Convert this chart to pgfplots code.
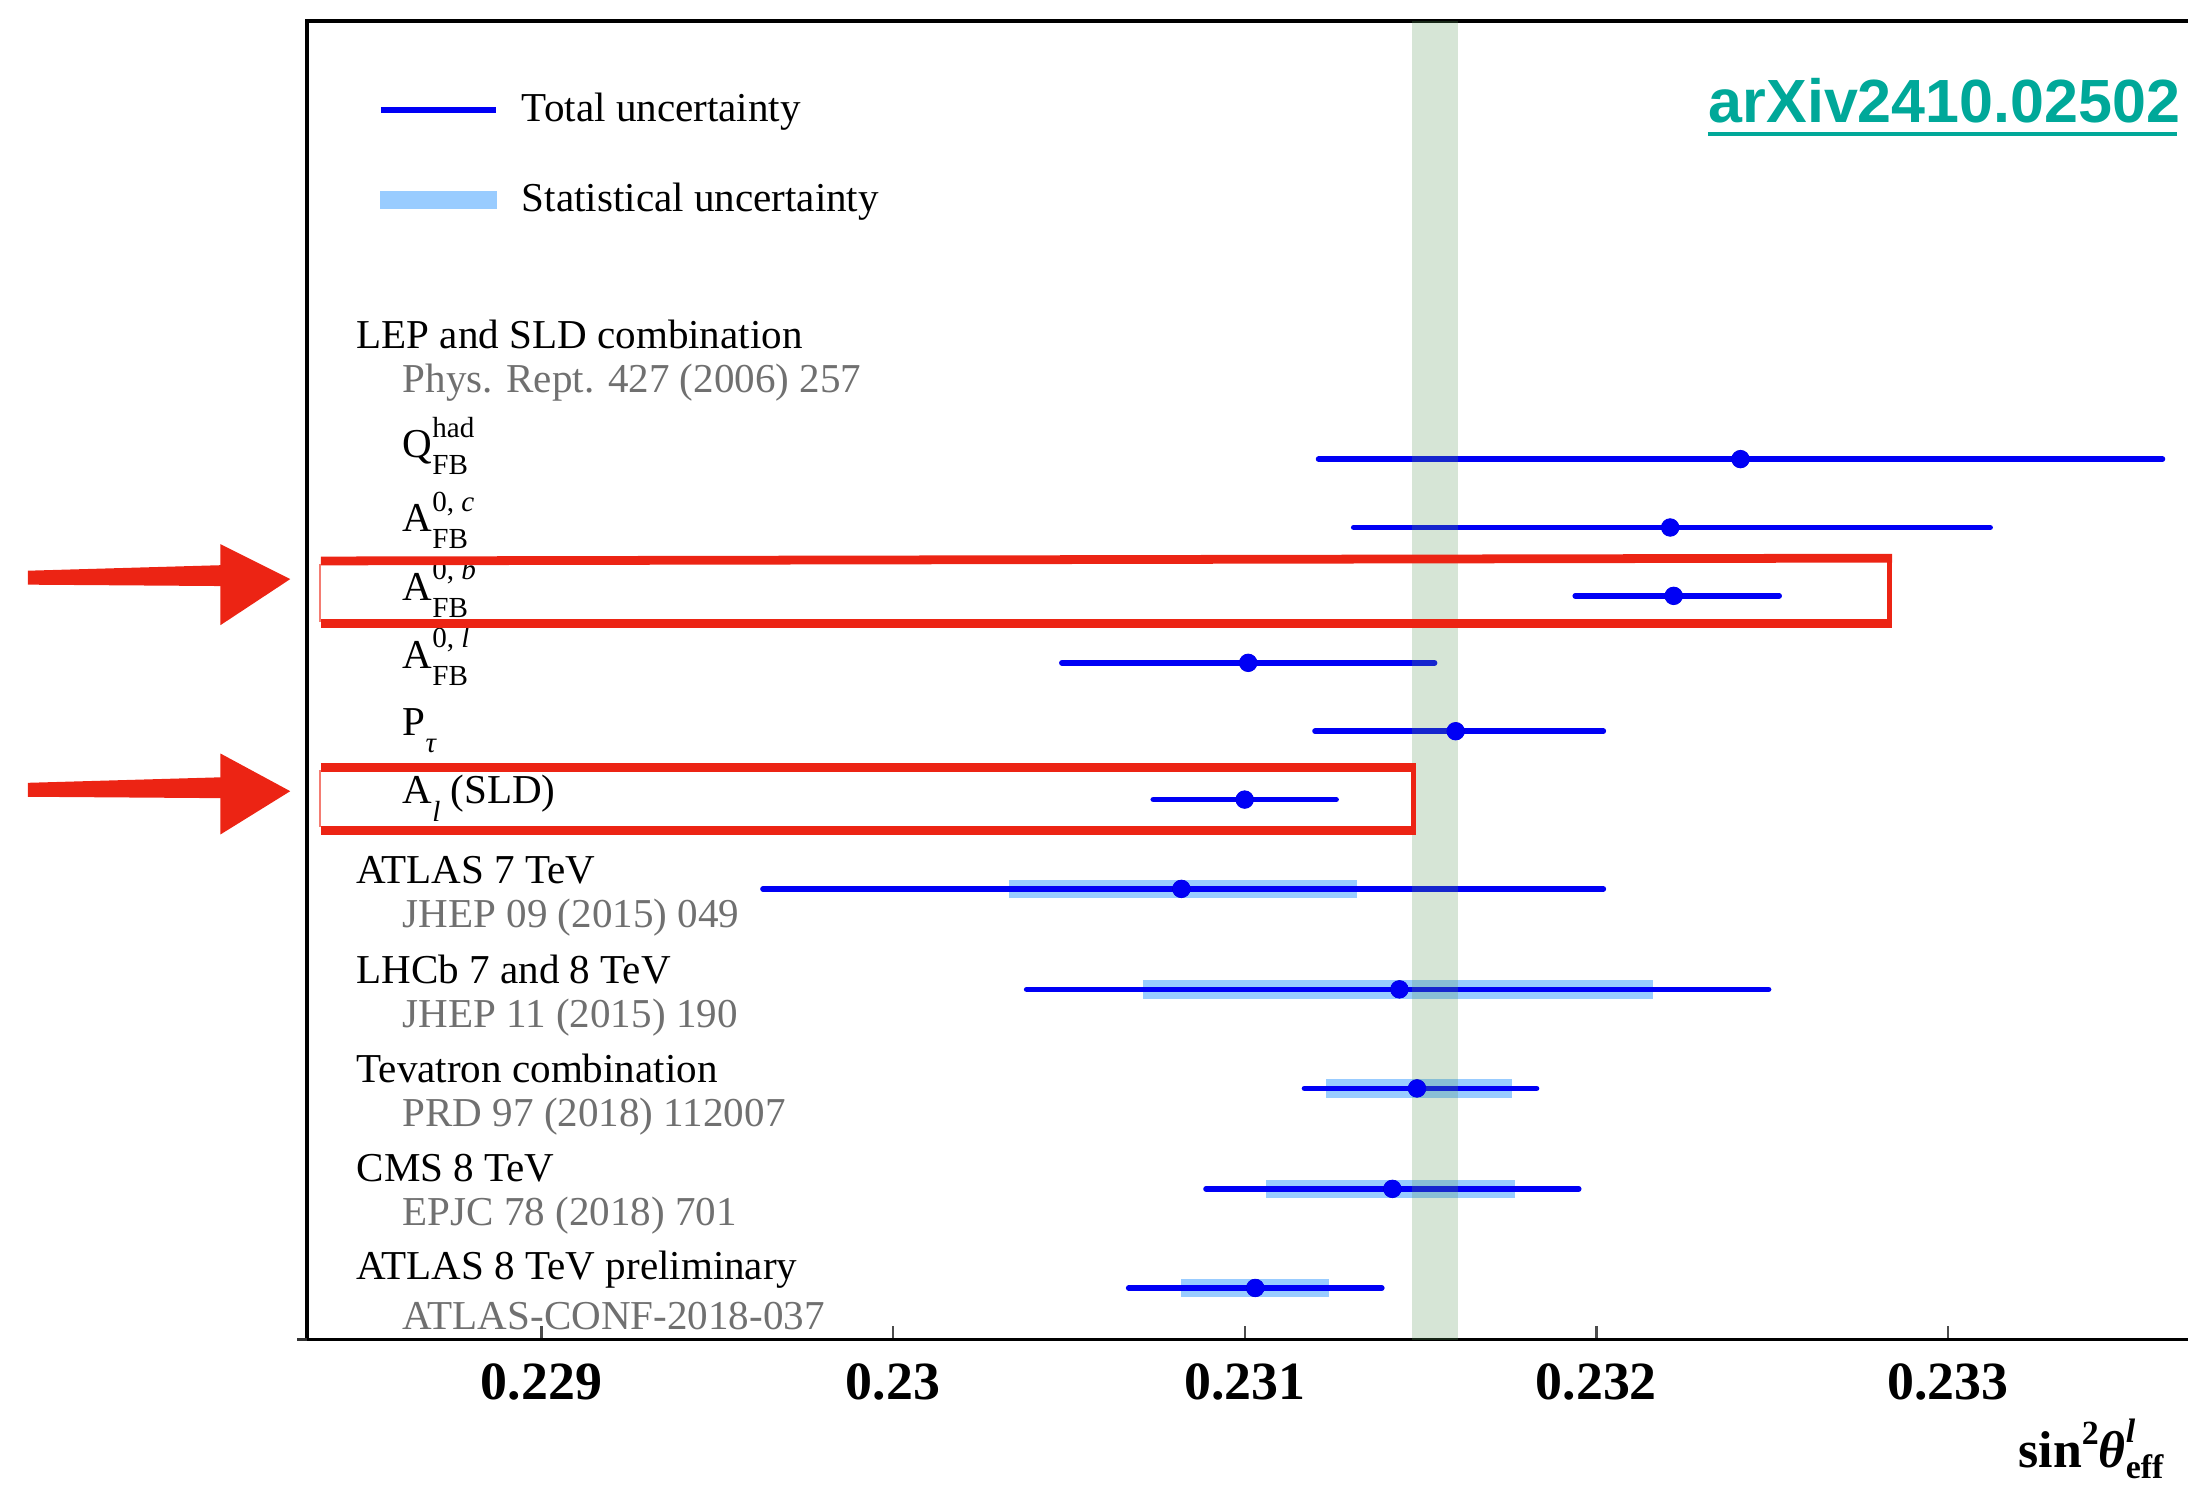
\documentclass[border=0pt]{standalone}
\usepackage{fontspec}
\setmainfont{Liberation Serif}
\newfontfamily\arxivfont{Liberation Sans}
\usepackage{pgfplots}
\pgfplotsset{compat=1.18}
\usepackage{pgfplotstable}
\definecolor{statblue}{RGB}{153,204,255}
\definecolor{totblue}{RGB}{0,0,245}
\definecolor{bandgreen}{RGB}{90,150,90}
\definecolor{annred}{RGB}{236,36,20}
\definecolor{labgray}{RGB}{112,112,112}
\definecolor{arxivteal}{RGB}{0,168,153}
\newcommand\lbl{\fontsize{10.3}{12}\selectfont}
\newcommand\supsub[2]{\makebox[0pt][l]{\raisebox{0.5em}{\fontsize{7.3}{8}\selectfont #1}}\raisebox{-0.42em}{\fontsize{7.3}{8}\selectfont #2}}
\newcommand\sub[1]{\raisebox{-0.42em}{\fontsize{7.3}{8}\selectfont #1}}

% total uncertainty: centre, row position, +err, -err
\pgfplotstableread{
c       y    tp      tm
0.23241 329  0.00120 0.00120
0.23221 378  0.00091 0.00090
0.23222 427  0.00030 0.00028
0.23101 475  0.00053 0.00053
0.23160 524  0.00042 0.00040
0.23100 573  0.00026 0.00026
0.23082 637  0.00120 0.00119
0.23144 709  0.00105 0.00106
0.23149 780  0.00034 0.00032
0.23142 852  0.00053 0.00053
0.23103 923  0.00036 0.00036
}\totdata
% statistical uncertainty
\pgfplotstableread{
c       y    sp      sm
0.23082 637  0.00050 0.00049
0.23144 709  0.00072 0.00073
0.23149 780  0.00027 0.00026
0.23142 852  0.00035 0.00036
0.23103 923  0.00021 0.00021
}\statdata

\begin{document}
\begin{tikzpicture}
\begin{axis}[
  at={(77pt,-336pt)}, anchor=south west,
  scale only axis, width=476pt, height=330.75pt,
  xmin=0.22833333, xmax=0.23373016,
  ymin=15, ymax=960, y dir=reverse,
  enlargelimits=false,
  axis line style={line width=0.9pt},
  xtick={0.229,0.230,0.231,0.232,0.233},
  xticklabels={0.229,0.23,0.231,0.232,0.233},
  xtick pos=bottom, ytick=\empty,
  tick align=inside, major tick length=3.5pt,
  tick style={black!70, line width=0.6pt},
  xticklabel style={font=\bfseries\fontsize{13.5}{14}\selectfont, anchor=base, yshift=-15pt},
  legend style={at={(rel axis cs:0.037,0.952)}, anchor=north west, draw=none, fill=none,
    inner xsep=0pt, inner ysep=0pt, row sep=9.8pt, column sep=3.7pt, font=\lbl},
  legend cell align=left,
]
\addlegendimage{legend image code/.code={\draw[totblue, line width=1.4pt] (0pt,0pt) -- (29pt,0pt);}}
\addlegendentry{Total uncertainty}
\addlegendimage{legend image code/.code={\fill[statblue] (0pt,-2.1pt) rectangle (29pt,2.1pt);}}
\addlegendentry{Statistical uncertainty}

\addplot[only marks, mark=none, forget plot,
  error bars/.cd, x dir=both, x explicit, error mark=none,
  error bar style={line width=4.6pt, color=statblue, line cap=butt}]
  table[x=c, y=y, x error plus=sp, x error minus=sm]{\statdata};
\addplot[only marks, mark=none, forget plot,
  error bars/.cd, x dir=both, x explicit, error mark=none,
  error bar style={line width=1.4pt, color=totblue, line cap=round}]
  table[x=c, y=y, x error plus=tp, x error minus=tm]{\totdata};
\addplot[only marks, mark=*, mark size=2.1pt, color=totblue, forget plot]
  table[x=c, y=y]{\totdata};
\addplot[draw=none, fill=bandgreen, fill opacity=0.25, forget plot]
  coordinates {(0.231475,15) (0.231607,15) (0.231607,960) (0.231475,960)} -- cycle;
\end{axis}

\begin{scope}[x=0.35pt, y=-0.35pt]
\draw[black!80, line width=0.9pt] (213,960) -- (220,960);
\begin{scope}[every node/.style={anchor=base west, inner sep=0pt, font=\lbl}]
\node at (255,250) {LEP and SLD combination};
\node[text=labgray] at (288,281) {Phys. Rept. 427 (2006) 257};
\node at (288,328) {Q\supsub{had}{FB}};
\node at (288,381) {A\supsub{0, \textit{c}}{FB}};
\node at (288,430) {A\supsub{0, \textit{b}}{FB}};
\node at (288,479) {A\supsub{0, \textit{l}}{FB}};
\node at (288,527) {P\sub{\textit{τ}}};
\node at (288,576) {A\sub{\textit{l}} (SLD)};
\node at (255,633) {ATLAS 7 TeV};
\node[text=labgray] at (288,665) {JHEP 09 (2015) 049};
\node at (255,705) {LHCb 7 and 8 TeV};
\node[text=labgray] at (288,736) {JHEP 11 (2015) 190};
\node at (255,776) {Tevatron combination};
\node[text=labgray] at (288,807) {PRD 97 (2018) 112007};
\node at (255,847) {CMS 8 TeV};
\node[text=labgray] at (288,878) {EPJC 78 (2018) 701};
\node at (255,917) {ATLAS 8 TeV preliminary};
\node[text=labgray] at (288,953) {ATLAS-CONF-2018-037};
\end{scope}
% arXiv tag
\node[anchor=base west, inner sep=0pt, text=arxivteal, font=\arxivfont\bfseries\fontsize{15.3}{17}\selectfont] at (1224,88) {arXiv2410.02502};
\draw[arxivteal, line width=1pt] (1224,96) -- (1560,96);
% x label
\node[anchor=base west, inner sep=0pt, font=\bfseries\fontsize{13}{14}\selectfont] at (1446,1052)
  {sin\raisebox{0.45em}{\fontsize{8.5}{9}\selectfont 2}\textit{θ}\makebox[0pt][l]{\raisebox{0.5em}{\fontsize{8.5}{9}\selectfont\textit{l}}}\raisebox{-0.2em}{\fontsize{8.5}{9}\selectfont eff}};
% red annotations
\draw[annred, line width=2.2pt] (230,402) -- (1356,400);
\draw[annred, line width=2.2pt] (230,447) -- (1356,447);
\draw[annred, line width=1.3pt] (1354,399) -- (1354,449);
\draw[annred!60, line width=0.5pt] (229,404) -- (229,446);
\draw[annred, line width=2.2pt] (230,550) -- (1015,550);
\draw[annred, line width=2.2pt] (230,595) -- (1015,595);
\draw[annred, line width=1.3pt] (1013,548) -- (1013,597);
\draw[annred!60, line width=0.5pt] (229,552) -- (229,593);
\fill[annred] (20,409) -- (160,405) -- (160,420) -- (20,419) -- cycle;
\fill[annred] (158,390) -- (208,415) -- (158,448) -- cycle;
\fill[annred] (20,561) -- (160,557) -- (160,572) -- (20,571) -- cycle;
\fill[annred] (158,540) -- (208,567) -- (158,598) -- cycle;
\pgfresetboundingbox
\useasboundingbox (0,0) rectangle (1568,1066);
\end{scope}
\end{tikzpicture}
\end{document}
